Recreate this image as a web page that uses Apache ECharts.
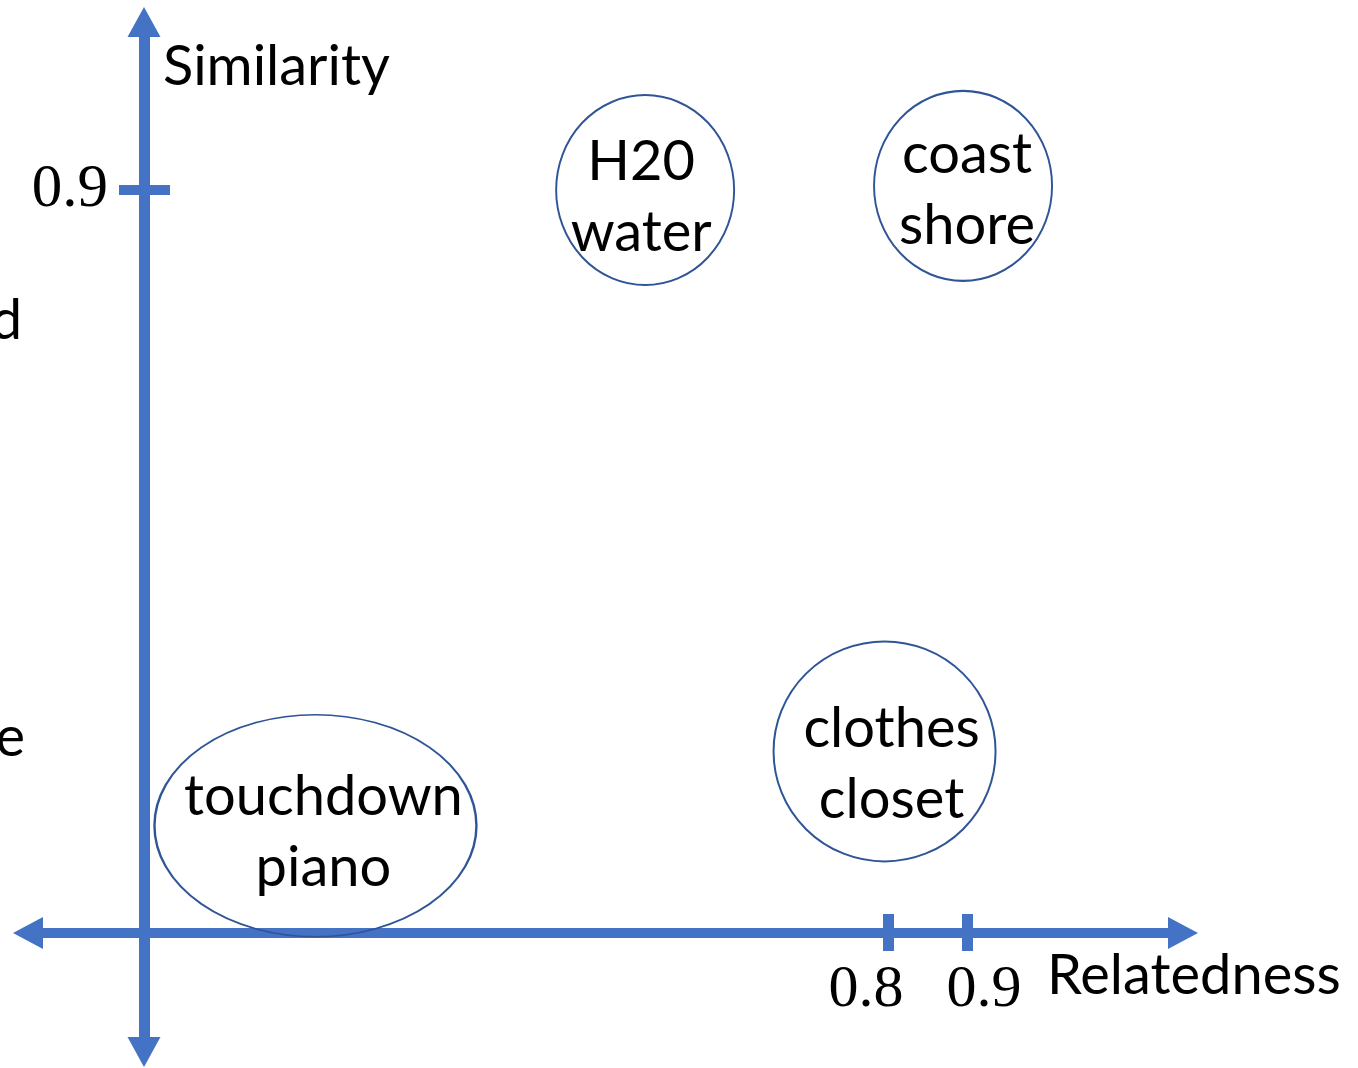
<!DOCTYPE html>
<html>
<head>
<meta charset="utf-8">
<title>Similarity vs Relatedness</title>
<script src="https://cdn.jsdelivr.net/npm/echarts@6/dist/echarts.min.js"></script>
<style>
  html, body { margin: 0; padding: 0; background: #fff; }
  #chart { width: 1358px; height: 1068px; }
</style>
</head>
<body>
<div id="chart"></div>
<script>
// word pairs, placed by relatedness (x) and similarity (y)
var pairNames = ['H20\nwater', 'coast\nshore', 'clothes\ncloset', 'touchdown\npiano']
var relatedness = [0.49, 0.895, 0.795, 0.07]
var similarity = [0.9, 0.905, 0.22, 0.13]
var xTicks = [0.8, 0.9]
var yTicks = [0.9]

// ellipse size (px) and label nudge (px) for each pair
var bubbleSize = [[178, 190], [178, 190], [222, 220], [322, 222]]
var labelNudge = [[-4, 7], [4, 5], [7, 13], [8, 7]]

var axisBlue = '#4472C4'
var ringBlue = '#2F5597'
var sansFont = 'Lato'
var serifFont = 'Liberation Serif'

function showChart () {
  var chart = echarts.init(document.getElementById('chart'))

  // the axes cross inside the grid, so both are pulled in with a negative offset
  var xOffset = -119
  var yOffset = -116

  var option = {
    animation: false,
    backgroundColor: '#fff',
    textStyle: { fontFamily: sansFont },
    grid: { left: 28, right: 175, top: 22, bottom: 16, containLabel: false, outerBoundsMode: 'none' },
    xAxis: [
      {
        type: 'value',
        position: 'bottom',
        offset: xOffset,
        min: -0.2962,
        max: 1.1752,
        axisLine: {
          show: true,
          onZero: false,
          symbol: ['triangle', 'triangle'],
          symbolSize: [32, 30],
          lineStyle: { color: axisBlue, width: 10 }
        },
        axisTick: { show: true, customValues: xTicks, length: 18, lineStyle: { color: axisBlue, width: 11 } },
        axisLabel: {
          show: true,
          customValues: xTicks,
          margin: 27,
          formatter: function (v) {
            return v < 0.85 ? '{l|' + v + '}' : '{r|' + v + '}'
          },
          rich: {
            l: { fontFamily: serifFont, fontSize: 60, color: '#000', padding: [0, 45, 0, 0] },
            r: { fontFamily: serifFont, fontSize: 60, color: '#000', padding: [0, 0, 0, 34] }
          }
        },
        splitLine: { show: false },
        name: 'Relatedness',
        nameLocation: 'end',
        nameGap: -136,
        nameTextStyle: { fontFamily: sansFont, fontSize: 56, color: '#000', align: 'left', verticalAlign: 'top', padding: [15, 0, 0, 0] }
      },
      {
        type: 'value',
        position: 'bottom',
        offset: xOffset,
        min: -0.2962,
        max: 1.1752,
        axisLine: { show: false, onZero: false },
        axisTick: { show: true, inside: true, customValues: xTicks, length: 19, lineStyle: { color: axisBlue, width: 11 } },
        axisLabel: { show: false },
        splitLine: { show: false }
      }
    ],
    yAxis: [
      {
        type: 'value',
        position: 'left',
        offset: yOffset,
        min: -0.1441,
        max: 1.1035,
        axisLine: {
          show: true,
          onZero: false,
          symbol: ['triangle', 'triangle'],
          symbolSize: [33, 30],
          lineStyle: { color: axisBlue, width: 11 }
        },
        axisTick: { show: true, customValues: yTicks, length: 25, lineStyle: { color: axisBlue, width: 10 } },
        axisLabel: { show: true, customValues: yTicks, margin: 36, fontFamily: serifFont, fontSize: 61, color: '#000', padding: [10, 0, 0, 0] },
        splitLine: { show: false },
        name: 'Similarity',
        nameLocation: 'end',
        nameGap: -17,
        nameTextStyle: { fontFamily: sansFont, fontSize: 56, color: '#000', align: 'left', verticalAlign: 'top', padding: [0, 0, 0, 19] }
      },
      {
        type: 'value',
        position: 'left',
        offset: yOffset,
        min: -0.1441,
        max: 1.1035,
        axisLine: { show: false, onZero: false },
        axisTick: { show: true, inside: true, customValues: yTicks, length: 26, lineStyle: { color: axisBlue, width: 10 } },
        axisLabel: { show: false },
        splitLine: { show: false }
      }
    ],
    // letters cut off at the left edge of the slide
    graphic: [
      { type: 'text', x: 22, y: 321, style: { text: 'd', font: '56px Lato', fill: '#000', align: 'right', verticalAlign: 'middle' } },
      { type: 'text', x: 25, y: 738, style: { text: 'e', font: '56px Lato', fill: '#000', align: 'right', verticalAlign: 'middle' } }
    ],
    series: [
      {
        name: 'pairs',
        type: 'scatter',
        symbol: 'circle',
        symbolSize: function (val, params) {
          return bubbleSize[params.dataIndex]
        },
        data: pairNames.map(function (n, i) {
          return { name: n, value: [relatedness[i], similarity[i]], label: { offset: labelNudge[i] } }
        }),
        itemStyle: { color: 'rgba(255,255,255,0)', borderColor: ringBlue, borderWidth: 2, opacity: 1 },
        label: {
          show: true,
          position: 'inside',
          formatter: '{b}',
          fontFamily: sansFont,
          fontSize: 56,
          lineHeight: 71,
          color: '#000'
        },
        emphasis: { disabled: true },
        silent: true,
        z: 5
      }
    ]
  }
  chart.setOption(option)
}

showChart()
</script>
</body>
</html>
